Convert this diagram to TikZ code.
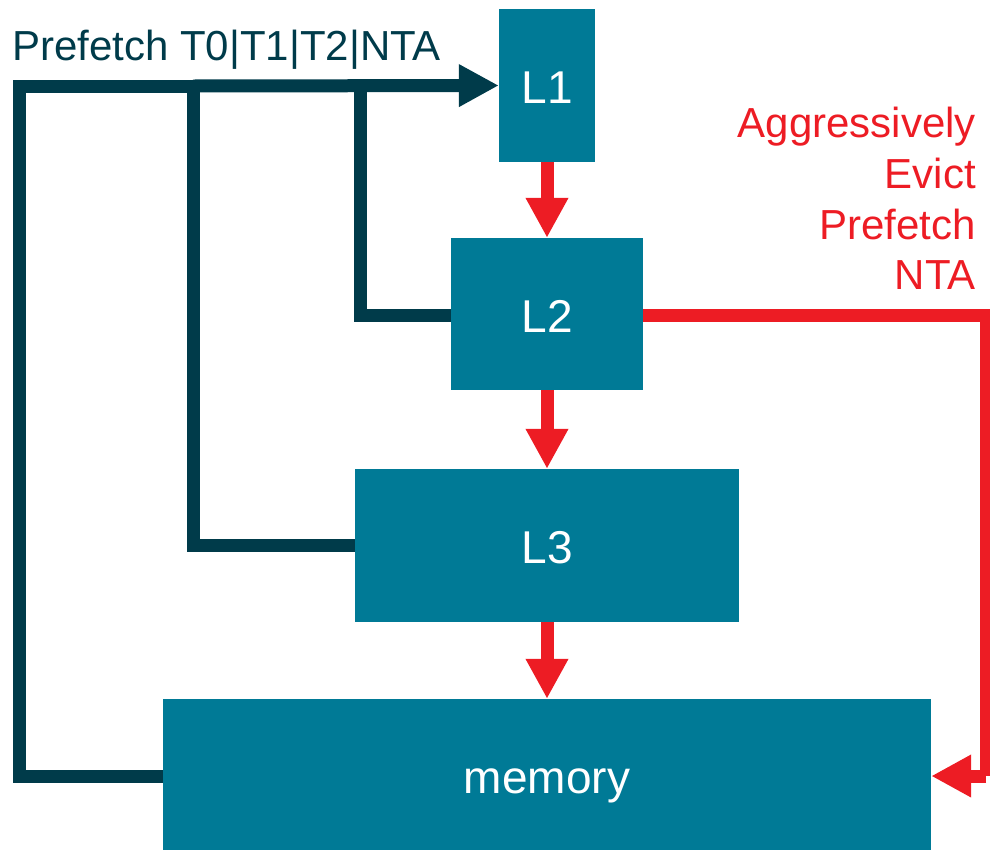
\documentclass[tikz,border=0pt]{standalone}
\usepackage{fontspec}
\setmainfont{Liberation Sans}
\usetikzlibrary{arrows.meta}
\definecolor{boxteal}{RGB}{0,122,150}
\definecolor{darkline}{RGB}{0,59,74}
\definecolor{redline}{RGB}{237,28,36}
\begin{document}
\begin{tikzpicture}[x=1pt,y=-1pt,
  cachebox/.style={fill=boxteal, draw=none, inner sep=0pt, text=white,
    font=\fontsize{46}{50}\selectfont, text height=36pt, text depth=0pt},
  darkconn/.style={draw=darkline, line width=13pt, miter limit=10},
  redconn/.style={draw=redline, line width=13pt, miter limit=10},
  darktip/.style={-{Triangle[length=40pt,width=40pt]}},
  redtip/.style={-{Triangle[length=40pt,width=40pt]}},
  lbl/.style={inner sep=0pt, font=\fontsize{42}{50}\selectfont}]
\useasboundingbox (0,0) rectangle (990,849);
% boxes
\node[cachebox, minimum width=96pt, minimum height=153pt] (L1) at (547,85.5) {L1};
\node[cachebox, minimum width=192pt, minimum height=152pt] (L2) at (547,314) {L2};
\node[cachebox, minimum width=384pt, minimum height=153pt] (L3) at (547,545.5) {L3};
\node[cachebox, minimum width=768pt, minimum height=152pt] (mem) at (547,775) {memory};
% coordinates for corners
\coordinate (cl) at (19,86);
\coordinate (cb) at (19,776);
\coordinate (b3) at (193,86);
\coordinate (b2) at (360,86);
\coordinate (rc) at (986,315.5);
\coordinate (rb) at (986,776);
% dark prefetch lines
\draw[darkconn] (mem.west |- cb) -- (cb) -- (cl) -- (b3);
\draw[darkconn, darktip] (b3) -- (L1.west);
\draw[darkconn] (L3.west) -| (b3);
\draw[darkconn] (L2.west |- rc) -| (b2);
% red eviction arrows
\draw[redconn, redtip] (L1.south) -- (L2.north);
\draw[redconn, redtip] (L2.south) -- (L3.north);
\draw[redconn, redtip] (L3.south) -- (mem.north);
\draw[redconn] (L2.east |- rc) -- (rc) -- (rb);
\draw[redconn, redtip] (rb) -- (mem.east |- rb);
% labels
\node[lbl, text=darkline, anchor=base west] (pf) at (12,60) {Prefetch T0|T1|T2|NTA};
\node[lbl, text=redline, anchor=base east] (r1) at (976,137) {Aggressively};
\node[lbl, text=redline, anchor=base east] (r2) at (976,188) {Evict};
\node[lbl, text=redline, anchor=base east] (r3) at (976,239) {Prefetch};
\node[lbl, text=redline, anchor=base east] (r4) at (976,289) {NTA};
\end{tikzpicture}
\end{document}
